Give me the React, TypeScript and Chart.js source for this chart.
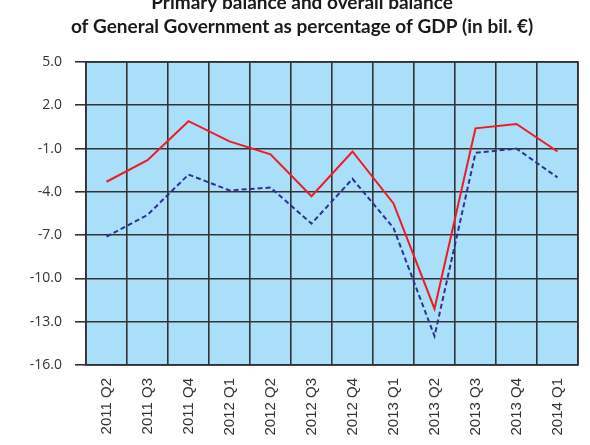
import { useEffect, useRef } from "react";
import { Chart, registerables } from "chart.js";

Chart.register(...registerables);

const categories = [
  "2011 Q2", "2011 Q3", "2011 Q4", "2012 Q1", "2012 Q2", "2012 Q3",
  "2012 Q4", "2013 Q1", "2013 Q2", "2013 Q3", "2013 Q4", "2014 Q1",
];
const primaryBalance = [-3.3, -1.8, 0.9, -0.5, -1.4, -4.3, -1.2, -4.8, -12.1, 0.4, 0.7, -1.2];
const overallBalance = [-7.1, -5.6, -2.8, -3.9, -3.7, -6.2, -3.1, -6.5, -14.0, -1.3, -1.0, -3.0];
const titleLines = [
  "Primary balance and overall balance",
  "of General Government as percentage of GDP (in bil. €)",
];

const CANVAS_W = 590;
const CANVAS_H = 455;
const TOP_SHIFT = 9;
const PLOT_TOP = 62;
const PLOT_BOTTOM = 365;
const PLOT_LEFT = 86;
const PAD_LEFT = 26;
const TITLE_SIZE = 19;
const TITLE_LH = 1.26;

const plotBg = {
  id: "plotBg",
  beforeDraw(chart: any) {
    const { ctx, chartArea } = chart;
    ctx.save();
    ctx.fillStyle = "#aadff9";
    ctx.fillRect(chartArea.left, chartArea.top, chartArea.right - chartArea.left, chartArea.bottom - chartArea.top);
    ctx.restore();
  },
  afterDatasetsDraw(chart: any) {
    const { ctx, chartArea } = chart;
    ctx.save();
    ctx.strokeStyle = "#333333";
    ctx.lineWidth = 1.6;
    ctx.strokeRect(chartArea.left, chartArea.top, chartArea.right - chartArea.left, chartArea.bottom - chartArea.top);
    ctx.restore();
  },
};

export default function App() {
  const ref = useRef<HTMLCanvasElement>(null);
  useEffect(() => {
    if (!ref.current) return;
    const titleBlock = 2 * TITLE_SIZE * TITLE_LH;
    const chart = new Chart(ref.current, {
      type: "line",
      data: {
        labels: categories,
        datasets: [
          {
            label: "Primary balance",
            data: primaryBalance,
            borderColor: "#ed1c24",
            borderWidth: 2,
            pointRadius: 0,
            tension: 0,
          },
          {
            label: "Overall balance",
            data: overallBalance,
            borderColor: "#2e3192",
            borderWidth: 2,
            borderDash: [5, 3],
            pointRadius: 0,
            tension: 0,
          },
        ],
      },
      options: {
        responsive: false,
        animation: false,
        layout: { padding: { left: PAD_LEFT, right: 12, top: 0, bottom: 0 } },
        plugins: {
          legend: { display: false },
          tooltip: { enabled: false },
          title: {
            display: true,
            text: titleLines,
            color: "#1a1a1a",
            font: { family: "Lato", size: TITLE_SIZE, weight: "bold", lineHeight: TITLE_LH },
            padding: { top: 0, bottom: PLOT_TOP + TOP_SHIFT - titleBlock },
          },
        },
        scales: {
          x: {
            offset: true,
            grid: { offset: true, color: "#333333", lineWidth: 1.6, drawTicks: false },
            border: { display: false },
            ticks: {
              color: "#333333",
              font: { family: "Liberation Sans", size: 15 },
              maxRotation: 90,
              minRotation: 90,
              padding: 13,
              autoSkip: false,
            },
            afterFit(scale: any) {
              scale.height = CANVAS_H - (PLOT_BOTTOM + TOP_SHIFT);
            },
          },
          y: {
            min: -16,
            max: 5,
            grid: { color: "#333333", lineWidth: 1.6, tickLength: 11 },
            border: { display: false },
            ticks: {
              stepSize: 3,
              color: "#333333",
              font: { family: "Open Sans", size: 14 },
              padding: 13,
              callback: (v: any) => Number(v).toFixed(1),
            },
            afterFit(scale: any) {
              scale.width = PLOT_LEFT - PAD_LEFT;
            },
          },
        },
      },
      plugins: [plotBg],
    });
    return () => chart.destroy();
  }, []);
  return (
    <div style={{ position: "absolute", left: 0, top: -TOP_SHIFT, width: CANVAS_W, height: CANVAS_H }}>
      <canvas ref={ref} width={CANVAS_W} height={CANVAS_H} style={{ width: CANVAS_W, height: CANVAS_H }} />
    </div>
  );
}
